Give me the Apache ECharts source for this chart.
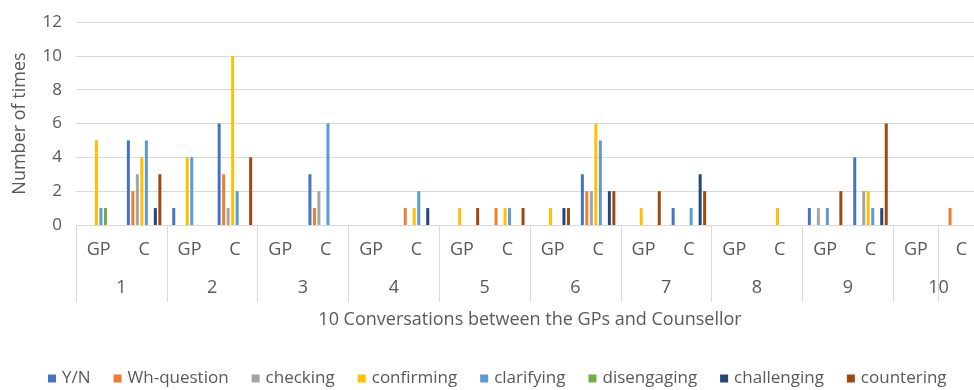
<!DOCTYPE html>
<html>
<head>
<meta charset="utf-8">
<script src="https://cdn.jsdelivr.net/npm/echarts@6/dist/echarts.min.js"></script>
<style>
html,body{margin:0;padding:0;background:#fff;}
#chart{width:974px;height:390px;}
</style>
</head>
<body>
<div id="chart"></div>
<script>
var categories = ['GP','C','GP','C','GP','C','GP','C','GP','C','GP','C','GP','C','GP','C','GP','C','GP','C'];
var groupLabels = ['1','2','3','4','5','6','7','8','9','10'];
var yTicks = [0, 2, 4, 6, 8, 10, 12];

var seriesNames = ['Y/N','Wh-question','checking','confirming','clarifying','disengaging','challenging','countering'];
var yn          = [0,5,1,6,0,3,0,0,0,0,0,3,0,1,0,0,1,4,0,0];
var whQuestion  = [0,2,0,3,0,1,0,1,0,1,0,2,0,0,0,0,0,0,0,1];
var checking    = [0,3,0,1,0,2,0,0,0,0,0,2,0,0,0,0,1,2,0,0];
var confirming  = [5,4,4,10,0,0,0,1,1,1,1,6,1,0,0,1,0,2,0,0];
var clarifying  = [1,5,4,2,0,6,0,2,0,1,0,5,0,1,0,0,1,1,0,0];
var disengaging = [1,0,0,0,0,0,0,0,0,0,0,0,0,0,0,0,0,0,0,0];
var challenging = [0,1,0,0,0,0,0,1,0,0,1,2,0,3,0,0,0,1,0,0];
var countering  = [0,3,0,4,0,0,0,0,1,1,1,2,2,2,0,0,2,6,0,0];

var seriesData = [yn, whQuestion, checking, confirming, clarifying, disengaging, challenging, countering];
var colors = ['#4472C4','#ED7D31','#A5A5A5','#FFC000','#5B9BD5','#70AD47','#264478','#9E480E'];

var FONT = 'Open Sans';
var TXT = '#595959';

var chart = echarts.init(document.getElementById('chart'), null, {renderer:'canvas'});
var option = {
  animation: false,
  color: colors,
  textStyle: {fontFamily: FONT},
  grid: {left: 76, width: 908, top: 22, bottom: 165, outerBoundsMode: 'none', containLabel: false},
  legend: {
    data: seriesNames,
    top: 365,
    left: 43,
    itemWidth: 8,
    itemHeight: 8,
    itemGap: 23,
    icon: 'rect',
    textStyle: {fontFamily: FONT, fontSize: 17, color: TXT, padding: [0,0,0,1]}
  },
  xAxis: [{
    type: 'category',
    data: categories,
    axisLine: {show: true, lineStyle: {color: '#d9d9d9', width: 1}},
    axisTick: {show: true, interval: 1, length: 77, lineStyle: {color: '#d9d9d9', width: 1}},
    axisLabel: {interval: 0, fontFamily: FONT, fontSize: 18, color: TXT, margin: 16},
    splitLine: {show: false}
  }, {
    type: 'category',
    data: groupLabels,
    position: 'bottom',
    offset: 38,
    axisLine: {show: false},
    axisTick: {show: false},
    axisLabel: {interval: 0, fontFamily: FONT, fontSize: 18, color: TXT, margin: 16},
    name: '10 Conversations between the GPs and Counsellor',
    nameLocation: 'middle',
    nameGap: 48,
    nameTextStyle: {fontFamily: FONT, fontSize: 18, color: TXT}
  }],
  yAxis: {
    type: 'value',
    min: yTicks[0],
    max: yTicks[yTicks.length - 1],
    interval: 2,
    axisLine: {show: false},
    axisTick: {show: false},
    axisLabel: {fontFamily: FONT, fontSize: 17, color: TXT, margin: 14},
    splitLine: {lineStyle: {color: '#d9d9d9', width: 1}},
    name: 'Number of times',
    nameLocation: 'middle',
    nameGap: 47,
    nameTextStyle: {fontFamily: FONT, fontSize: 18, color: TXT}
  },
  series: seriesNames.map(function(n, i){
    return {
      name: n,
      type: 'bar',
      xAxisIndex: 0,
      data: seriesData[i],
      barWidth: 3,
      barGap: '50%'
    };
  })
};
chart.setOption(option);
</script>
</body>
</html>
